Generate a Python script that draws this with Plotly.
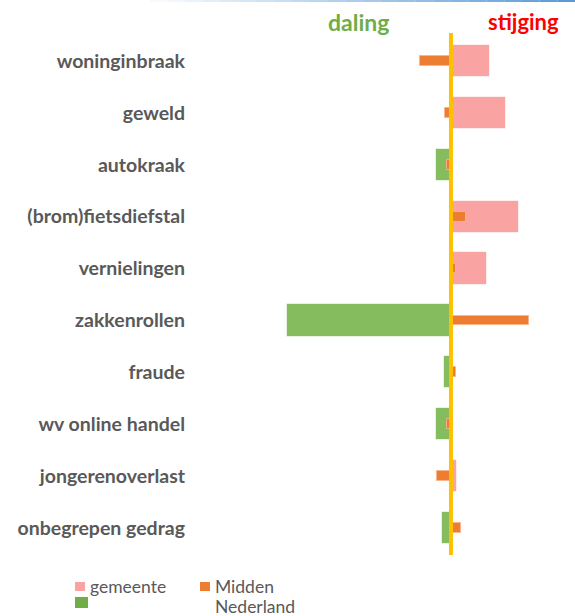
import plotly.graph_objects as go

categories = ["woninginbraak", "geweld", "autokraak", "(brom)fietsdiefstal", "vernielingen",
              "zakkenrollen", "fraude", "wv online handel", "jongerenoverlast", "onbegrepen gedrag"]
gemeente = [24, 33.5, -9, 41.5, 22, -100, -4.3, -9, 3.5, -5.5]
midden_nederland = [-19, -3.5, -2.5, 9, 3, 47.5, 3, -2.5, -8.5, 6]

PINK = "#F9A3A3"
GREEN_BAR = "#84BC5E"
GREEN = "#70AD47"
ORANGE = "#ED7D31"
YELLOW = "#FFC000"
GRAY = "#595959"

W_FIG, H_FIG = 575, 616
L, R, T, B = 188, 5, 35, 62
PW = W_FIG - L - R
PH = H_FIG - T - B

def px(x):
    return (x - L) / PW

def py(y):
    return (T + PH - y) / PH

fig = go.Figure()
fig.add_trace(go.Bar(
    y=categories, x=gemeente, orientation="h", width=0.62, name="gemeente",
    marker=dict(color=[PINK if v >= 0 else GREEN_BAR for v in gemeente],
                line=dict(color="rgba(255,255,255,0.6)", width=1)),
    showlegend=False,
))
fig.add_trace(go.Bar(
    y=categories, x=midden_nederland, orientation="h", width=0.19, name="Midden Nederland",
    marker=dict(color=ORANGE, line=dict(color="rgba(248,180,140,0.9)", width=1)),
    showlegend=False,
))

shapes = []
# zero line
shapes.append(dict(type="line", xref="x", yref="paper", x0=0, x1=0, y0=py(33), y1=py(555),
                   line=dict(color=YELLOW, width=4), layer="above"))
# top gradient line
n = 24
x_start, x_end = 150, 575
for i in range(n):
    a = (i + 1) / n
    shapes.append(dict(type="rect", xref="paper", yref="paper",
                       x0=px(x_start + (x_end - x_start) * i / n),
                       x1=px(x_start + (x_end - x_start) * (i + 1) / n),
                       y0=py(2), y1=py(0), line=dict(width=0),
                       fillcolor=f"rgba(91,155,213,{a:.3f})"))
# legend squares
shapes.append(dict(type="rect", xref="paper", yref="paper", x0=px(75), x1=px(85),
                   y0=py(591), y1=py(582), fillcolor=PINK, line=dict(width=0)))
shapes.append(dict(type="rect", xref="paper", yref="paper", x0=px(75), x1=px(88),
                   y0=py(608), y1=py(597), fillcolor=GREEN, line=dict(width=0)))
shapes.append(dict(type="rect", xref="paper", yref="paper", x0=px(200), x1=px(210),
                   y0=py(591), y1=py(582), fillcolor=ORANGE, line=dict(width=0)))

annotations = [
    dict(text="<b>daling</b>", x=px(358), y=py(22), xref="paper", yref="paper",
         showarrow=False, font=dict(family="Lato", size=23, color=GREEN),
         xanchor="center", yanchor="middle"),
    dict(text="<b>stijging</b>", x=px(523), y=py(22), xref="paper", yref="paper",
         showarrow=False, font=dict(family="Lato", size=22, color="#FF0000"),
         xanchor="center", yanchor="middle"),
    dict(text="gemeente", x=px(88), y=py(586), xref="paper", yref="paper",
         showarrow=False, font=dict(family="Lato", size=17.5, color=GRAY),
         xanchor="left", yanchor="middle"),
    dict(text="Midden", x=px(213), y=py(586), xref="paper", yref="paper",
         showarrow=False, font=dict(family="Lato", size=17.5, color=GRAY),
         xanchor="left", yanchor="middle"),
    dict(text="Nederland", x=px(213), y=py(606), xref="paper", yref="paper",
         showarrow=False, font=dict(family="Lato", size=17.5, color=GRAY),
         xanchor="left", yanchor="middle"),
]

fig.update_layout(
    width=W_FIG, height=H_FIG,
    margin=dict(l=L, r=R, t=T, b=B, autoexpand=False),
    paper_bgcolor="white", plot_bgcolor="white",
    barmode="overlay", bargap=0,
    showlegend=False,
    xaxis=dict(range=[-160.4, 72.6], showgrid=False, zeroline=False,
               showticklabels=False, showline=False, fixedrange=True),
    yaxis=dict(autorange="reversed", showgrid=False, zeroline=False, showline=False,
               tickfont=dict(family="Lato", size=19.5, color=GRAY, weight="bold"),
               ticks="", ticklabelstandoff=2),
    shapes=shapes, annotations=annotations,
)
fig.write_html("out.html", config={"displayModeBar": False},
               post_script="document.body.style.margin='0px';")
